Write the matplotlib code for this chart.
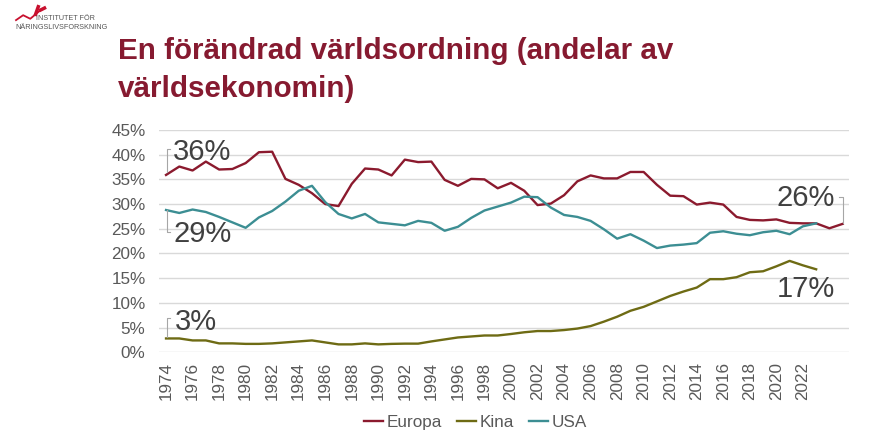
import numpy as np
import matplotlib.pyplot as plt
from matplotlib.lines import Line2D

plt.rcParams['font.family'] = ['Liberation Sans', 'DejaVu Sans']

##############################################
years_eu = list(range(1974, 2026))
years = list(range(1974, 2024))

europa = [35.9, 37.6, 36.8, 38.6, 37.0, 37.1, 38.3, 40.5, 40.6, 35.1,
          33.9, 32.2, 30.0, 29.6, 34.1, 37.2, 37.0, 35.8, 39.0, 38.5,
          38.6, 34.9, 33.7, 35.1, 35.0, 33.2, 34.3, 32.7, 29.8, 30.1,
          31.8, 34.6, 35.8, 35.2, 35.2, 36.5, 36.5, 33.9, 31.7, 31.6,
          29.9, 30.3, 29.9, 27.4, 26.8, 26.7, 26.9, 26.2, 26.1, 26.1,
          25.1, 26.0]
kina = [2.8, 2.8, 2.4, 2.4, 1.8, 1.8, 1.7, 1.7, 1.8, 2.0,
        2.2, 2.4, 2.0, 1.6, 1.6, 1.8, 1.6, 1.7, 1.75, 1.75,
        2.2, 2.6, 3.0, 3.2, 3.4, 3.4, 3.7, 4.05, 4.3, 4.3,
        4.5, 4.8, 5.3, 6.2, 7.2, 8.4, 9.2, 10.3, 11.4, 12.3,
        13.1, 14.8, 14.8, 15.2, 16.2, 16.4, 17.4, 18.5, 17.6, 16.8]
usa = [28.8, 28.2, 28.9, 28.4, 27.4, 26.3, 25.2, 27.3, 28.6, 30.5,
       32.7, 33.7, 30.4, 28.0, 27.1, 28.0, 26.3, 26.0, 25.7, 26.6,
       26.2, 24.6, 25.4, 27.2, 28.7, 29.5, 30.3, 31.5, 31.4, 29.3,
       27.8, 27.4, 26.6, 24.9, 23.0, 23.9, 22.6, 21.1, 21.6, 21.8,
       22.1, 24.2, 24.5, 24.0, 23.7, 24.3, 24.6, 23.9, 25.5, 26.1]

series_names = ['Europa', 'Kina', 'USA']
yticks = list(range(0, 50, 5))
xticks = list(range(1974, 2024, 2))

c_eu = '#8B1A2E'
c_cn = '#6E6B14'
c_us = '#3C8E93'
txt = '#595959'
lab = '#404040'

##############################################
fig = plt.figure(figsize=(8.9, 4.47), dpi=100)
ax = fig.add_axes([0.1791, 0.2119, 0.7752, 0.4973])

ax.plot(years_eu, europa, color=c_eu, lw=1.7, label=series_names[0])
ax.plot(years, kina, color=c_cn, lw=1.7, label=series_names[1])
ax.plot(years, usa, color=c_us, lw=1.7, label=series_names[2])

ax.set_xlim(1973.5, 2025.5)
ax.set_ylim(0, 45)
ax.set_yticks(yticks)
ax.set_yticklabels([f'{v}%' for v in yticks])
ax.set_xticks(xticks)
ax.set_xticklabels([str(y) for y in xticks], rotation=90)
ax.grid(axis='y', color='#D9D9D9', lw=1)
ax.set_axisbelow(True)
for s in ax.spines.values():
    s.set_visible(False)
ax.tick_params(axis='both', length=0, labelsize=12.3, colors=txt)
ax.tick_params(axis='y', pad=10)
ax.tick_params(axis='x', pad=7)

# data labels with leader brackets
br = dict(color='#A6A6A6', lw=0.8, clip_on=False)
fs_lab = 21
x0 = years[0]
ax.plot([x0 + 0.1, x0 + 0.1, x0 + 0.3], [europa[0] + 0.6, europa[0] + 5.3, europa[0] + 5.3], **br)
ax.text(x0 + 0.55, europa[0] + 4.6, f'{round(europa[0])}%', fontsize=fs_lab, color=lab, va='center')
ax.plot([x0 + 0.1, x0 + 0.1, x0 + 0.3], [usa[0], usa[0] - 4.4, usa[0] - 4.4], **br)
ax.text(x0 + 0.55, usa[0] - 4.9, f'{round(usa[0])}%', fontsize=fs_lab, color=lab, va='center')
ax.plot([x0 + 0.1, x0 + 0.1, x0 + 0.3], [kina[0] + 0.2, kina[0] + 4.1, kina[0] + 4.1], **br)
ax.text(x0 + 0.65, kina[0] + 3.4, f'{round(kina[0])}%', fontsize=fs_lab, color=lab, va='center')

xe = years_eu[-1]
ax.plot([xe - 0.3, xe, xe], [europa[-1] + 5.5, europa[-1] + 5.5, europa[-1] + 0.1], **br)
ax.text(xe - 0.6, europa[-1] + 5.2, f'{round(europa[-1])}%', fontsize=fs_lab, color=lab,
        va='center', ha='right')
ax.text(xe - 0.6, kina[-1] - 4.0, f'{round(kina[-1])}%', fontsize=fs_lab, color=lab,
        va='center', ha='right')

fig.legend(loc='center', bbox_to_anchor=(0.534, 0.054), ncol=3, frameon=False,
           fontsize=12.3, labelcolor=txt, handlelength=1.1, handletextpad=0.2,
           columnspacing=0.9)

# title
fig.text(0.1326, 1 - 37 / 447, 'En förändrad världsordning (andelar av\nvärldsekonomin)',
         fontsize=21.3, fontweight='bold', color='#861A30', va='top', ha='left',
         linespacing=1.45)

# logo
fig.add_artist(Line2D([0.018, 0.026, 0.034, 0.040, 0.046],
                      [0.955, 0.966, 0.958, 0.968, 0.978], color='#C8102E', lw=1.3))
fig.add_artist(Line2D([0.040, 0.043], [0.968, 0.985], color='#C8102E', lw=2.5))
fig.add_artist(Line2D([0.046, 0.050], [0.978, 0.982], color='#C8102E', lw=2.5))
fig.text(0.041, 1 - 19 / 447, 'INSTITUTET FÖR', fontsize=5.2, color='#555555', va='center')
fig.text(0.017, 1 - 27.5 / 447, 'NÄRINGSLIVSFORSKNING', fontsize=5.2, color='#555555', va='center')

fig.savefig('out.png', dpi=100, facecolor='white')
